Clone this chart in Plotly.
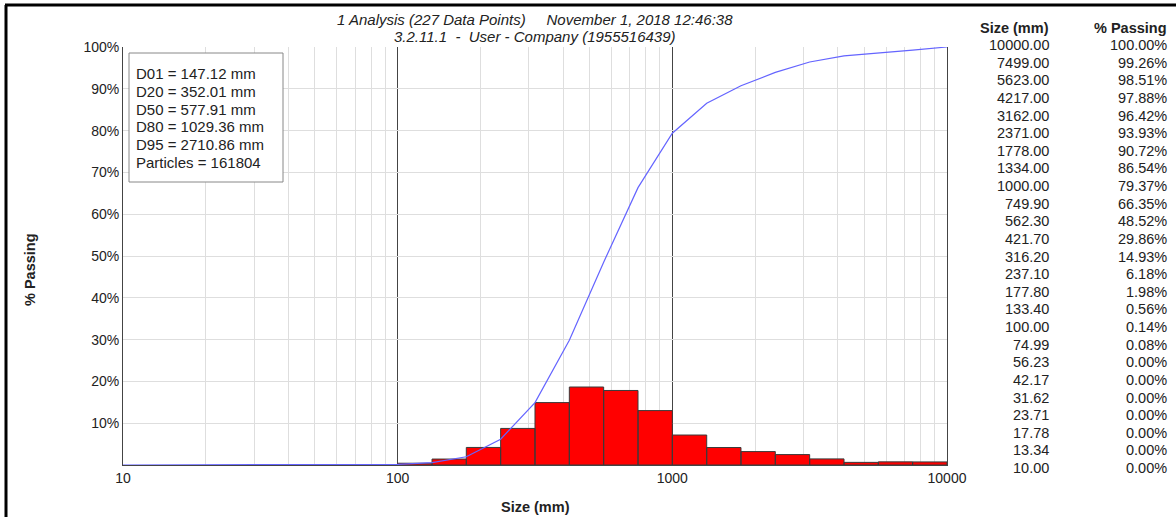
import plotly.graph_objects as go

# sieve table (largest first, as printed on the right)
sizes = [10000.00, 7499.00, 5623.00, 4217.00, 3162.00, 2371.00, 1778.00, 1334.00,
         1000.00, 749.90, 562.30, 421.70, 316.20, 237.10, 177.80, 133.40, 100.00,
         74.99, 56.23, 42.17, 31.62, 23.71, 17.78, 13.34, 10.00]
passing = [100.00, 99.26, 98.51, 97.88, 96.42, 93.93, 90.72, 86.54, 79.37, 66.35,
           48.52, 29.86, 14.93, 6.18, 1.98, 0.56, 0.14, 0.08, 0.00, 0.00, 0.00,
           0.00, 0.00, 0.00, 0.00]

# histogram bins (mm) and their heights in %
bin_lo = [56.23, 74.99, 100.0, 133.4, 177.8, 237.1, 316.2, 421.7, 562.3, 749.9,
          1000.0, 1334.0, 1778.0, 2371.0, 3162.0, 4217.0, 5623.0, 7499.0]
bin_hi = [74.99, 100.0, 133.4, 177.8, 237.1, 316.2, 421.7, 562.3, 749.9, 1000.0,
          1334.0, 1778.0, 2371.0, 3162.0, 4217.0, 5623.0, 7499.0, 10000.0]
bin_pct = [0.08, 0.06, 0.42, 1.42, 4.20, 8.75, 14.93, 18.66, 17.83, 13.02,
           7.17, 4.18, 3.21, 2.49, 1.46, 0.63, 0.75, 0.74]

stats = ["D01 = 147.12 mm", "D20 = 352.01 mm", "D50 = 577.91 mm",
         "D80 = 1029.36 mm", "D95 = 2710.86 mm", "Particles = 161804"]

x_ticks = [10, 100, 1000, 10000]
y_ticks = [10, 20, 30, 40, 50, 60, 70, 80, 90, 100]

FONT = "Liberation Sans, Arial, sans-serif"
TXT = "#222"
W, H = 1176, 517
L, R, T, B = 123, 229, 47, 52
PW, PH = W - L - R, H - T - B


def px(x):
    return (x - L) / PW


def py(y):
    return (H - B - y) / PH


def label(text, x, y, xanchor="center", size=14.5, **kw):
    return dict(text=text, x=px(x), y=py(y), xref="paper", yref="paper",
                xanchor=xanchor, yanchor="middle", showarrow=False,
                font=dict(size=size, color=TXT), **kw)


# bars as closed rectangles on the log axis
bx, by = [], []
for lo, hi, h in zip(bin_lo, bin_hi, bin_pct):
    bx += [lo, lo, hi, hi, lo, None]
    by += [0, h, h, 0, 0, None]

bars = go.Scatter(x=bx, y=by, mode="lines", fill="toself", fillcolor="#ff0000",
                  line=dict(color="#3a3a3a", width=1), hoverinfo="skip")

curve = go.Scatter(x=sizes[::-1], y=passing[::-1], mode="lines",
                   line=dict(color="#6464ff", width=1.2))

fig = go.Figure(data=[bars, curve])

ann = [
    label("<i>1 Analysis (227 Data Points)\u00a0\u00a0\u00a0\u00a0\u00a0November 1, 2018 12:46:38</i>",
          535, 20, size=15),
    label("<i>3.2.11.1\u00a0\u00a0-\u00a0\u00a0User - Company (1955516439)</i>", 535, 37, size=15),
    label("<b>Size (mm)</b>", 535, 507),
    label("<b>% Passing</b>", 30, 270, textangle=-90),
    label("<b>Size (mm)</b>", 1051, 28, xanchor="right"),
    label("<b>% Passing</b>", 1169, 28, xanchor="right"),
]
for i, s in enumerate(stats):
    ann.append(label(s, 134, 74 + i * 17.6, xanchor="left", size=15))
for i, (s, p) in enumerate(zip(sizes, passing)):
    yy = 45 + i * 17.625
    ann.append(label(f"{s:.2f}", 1051, yy, xanchor="right"))
    ann.append(label(f"{p:.2f}%", 1169, yy, xanchor="right"))

shapes = [
    # stats box
    dict(type="rect", xref="paper", yref="paper", x0=px(129), x1=px(283), y0=py(182), y1=py(53),
         line=dict(color="#888", width=1), fillcolor="white"),
    # outer frame (top and left edges only)
    dict(type="line", xref="paper", yref="paper", x0=px(5), x1=px(W), y0=py(5), y1=py(5),
         line=dict(color="black", width=3)),
    dict(type="line", xref="paper", yref="paper", x0=px(6), x1=px(6), y0=py(5), y1=py(H),
         line=dict(color="black", width=3)),
]

fig.update_layout(
    width=W, height=H,
    margin=dict(l=L, r=R, t=T, b=B),
    paper_bgcolor="white", plot_bgcolor="white",
    showlegend=False,
    font=dict(family=FONT, size=14, color=TXT),
    annotations=ann,
    shapes=shapes,
    xaxis=dict(
        type="log", range=[1, 4],
        tickmode="array", tickvals=x_ticks, ticktext=[str(v) for v in x_ticks],
        showgrid=True, gridcolor="#444", gridwidth=1,
        minor=dict(dtick="D1", showgrid=True, gridcolor="#dedede", gridwidth=1),
        showline=True, linecolor="#444", linewidth=1,
        zeroline=False, ticks="", tickfont=dict(size=14),
    ),
    yaxis=dict(
        range=[0, 100],
        tickmode="array", tickvals=y_ticks, ticktext=[f"{v}%" for v in y_ticks],
        showgrid=True, gridcolor="#dedede", gridwidth=1,
        showline=True, linecolor="#444", linewidth=1, mirror=True,
        zeroline=False, ticks="", tickfont=dict(size=14),
    ),
)

fig.write_html("out.html", config={"displayModeBar": False},
               post_script="document.body.style.margin='0';")
